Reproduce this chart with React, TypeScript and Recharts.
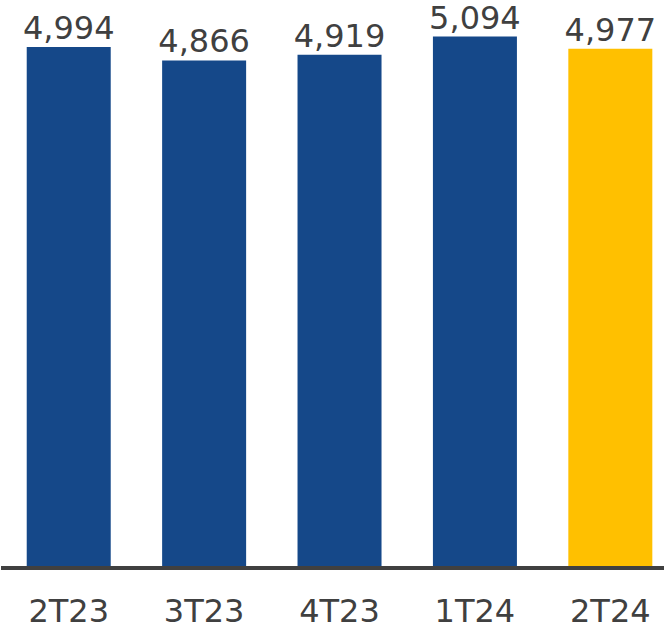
import { Bar, BarChart, Cell, LabelList, XAxis, YAxis } from "recharts";

const quarters = ["2T23", "3T23", "4T23", "1T24", "2T24"];
const values = [4994, 4866, 4919, 5094, 4977];
const barColors = ["#154889", "#154889", "#154889", "#154889", "#FFC000"];

const data = quarters.map((q, i) => ({ quarter: q, value: values[i] }));

const font = "'DejaVu Sans', Verdana, sans-serif";

const App = () => {
  return (
    <div
      style={{
        position: "absolute",
        left: 0,
        top: 0,
        width: 664,
        height: 626,
        overflow: "hidden",
        background: "#fff",
      }}
    >
      <BarChart
        width={678}
        height={626}
        data={data}
        margin={{ top: 0, right: 0, left: 1, bottom: 0 }}
        barCategoryGap="19%"
      >
        <YAxis hide domain={[0, 5445]} />
        <XAxis
          dataKey="quarter"
          height={58}
          axisLine={{ stroke: "#404040", strokeWidth: 4 }}
          tickLine={false}
          tickSize={0}
          tickMargin={31}
          interval={0}
          tick={{ fill: "#404040", fontSize: 32, fontFamily: font }}
        />
        <Bar dataKey="value" isAnimationActive={false}>
          {data.map((d, i) => (
            <Cell key={d.quarter} fill={barColors[i]} />
          ))}
          <LabelList
            dataKey="value"
            position="top"
            offset={8}
            fill="#404040"
            fontSize={32}
            fontFamily={font}
            formatter={(v: any) => Number(v).toLocaleString("en-US")}
          />
        </Bar>
      </BarChart>
    </div>
  );
};

export default App;
